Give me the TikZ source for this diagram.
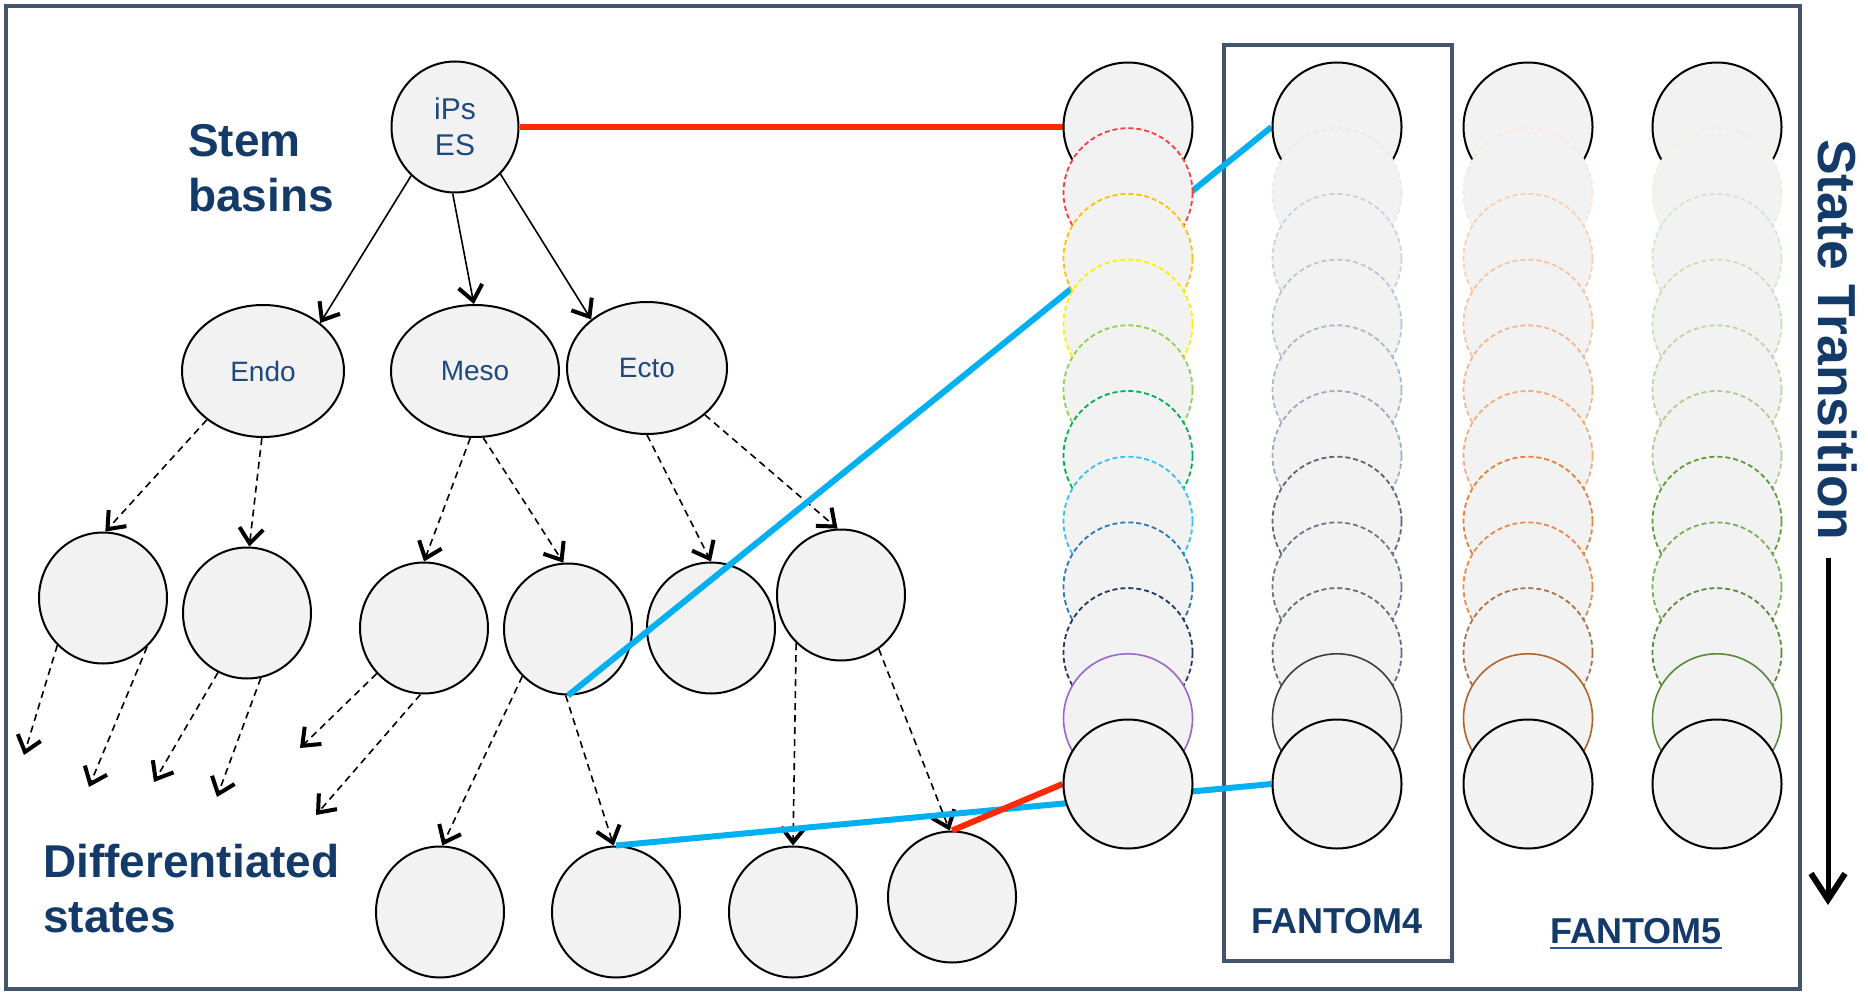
\documentclass[tikz,border=0pt]{standalone}
\usepackage{fontspec}
\setmainfont{Liberation Sans}
\usetikzlibrary{arrows.meta,shapes.geometric}
\pgfdeclarelayer{treel}
\pgfdeclarelayer{linel}
\pgfsetlayers{treel,linel,main}
\definecolor{cellfill}{HTML}{F2F2F2}
\definecolor{framec}{HTML}{44546A}
\definecolor{navy}{HTML}{133A68}
\definecolor{nodetxt}{HTML}{1F497D}
\definecolor{cyanl}{HTML}{00B0F0}
\definecolor{redl}{HTML}{FF2A00}
\definecolor{ulink}{HTML}{2F5597}
% column a
\definecolor{ka1}{HTML}{FF3B3B}
\definecolor{ka2}{HTML}{FFC000}
\definecolor{ka3}{HTML}{FFF000}
\definecolor{ka4}{HTML}{92D050}
\definecolor{ka5}{HTML}{00B050}
\definecolor{ka6}{HTML}{33C2F5}
\definecolor{ka7}{HTML}{2E75B6}
\definecolor{ka8}{HTML}{203864}
\definecolor{ka9}{HTML}{9A66CC}
% column b
\definecolor{kb1}{HTML}{E6E9EF}
\definecolor{kb2}{HTML}{CBD2DE}
\definecolor{kb3}{HTML}{BCC5D5}
\definecolor{kb4}{HTML}{ADB7CA}
\definecolor{kb5}{HTML}{9FAABF}
\definecolor{kb6}{HTML}{5E6676}
\definecolor{kb7}{HTML}{6E7685}
\definecolor{kb8}{HTML}{646B78}
\definecolor{kb9}{HTML}{3F3F3F}
% column c
\definecolor{kc1}{HTML}{FBE6D9}
\definecolor{kc2}{HTML}{F8CFB3}
\definecolor{kc3}{HTML}{F6C2A0}
\definecolor{kc4}{HTML}{F4B590}
\definecolor{kc5}{HTML}{F2AA7E}
\definecolor{kc6}{HTML}{E6803C}
\definecolor{kc7}{HTML}{E8894A}
\definecolor{kc8}{HTML}{A8724C}
\definecolor{kc9}{HTML}{B0632A}
% column d
\definecolor{kd1}{HTML}{E8F2E0}
\definecolor{kd2}{HTML}{D3E6C6}
\definecolor{kd3}{HTML}{C8E0B6}
\definecolor{kd4}{HTML}{B9D8A2}
\definecolor{kd5}{HTML}{A9D08E}
\definecolor{kd6}{HTML}{5F9B3A}
\definecolor{kd7}{HTML}{78AE55}
\definecolor{kd8}{HTML}{5C8A3C}
\definecolor{kd9}{HTML}{5A8A3A}
\begin{document}
\begin{tikzpicture}[x=1pt,y=-1pt,
  colc/.style={circle, fill=cellfill, minimum size=129pt, inner sep=0pt},
  ksolid/.style={line width=2pt},
  kdash/.style={line width=1.8pt, dash pattern=on 5pt off 3pt},
  kthin/.style={line width=1.6pt},
  tnode/.style={ellipse, draw=black, line width=2pt, fill=cellfill, inner sep=0pt,
    text=nodetxt, font=\fontsize{28}{34}\selectfont},
  tcirc/.style={tnode, minimum width=128pt, minimum height=131pt},
  sarrow/.style={line width=1.6pt, -{Straight Barb[length=15pt,width=24pt,line width=4pt]}},
  darrow/.style={sarrow, dash pattern=on 7pt off 5pt},
  framebox/.style={draw=framec, line width=4pt},
  bigtxt/.style={inner sep=0pt, text=navy, font=\fontsize{46}{55}\selectfont\bfseries},
  midtxt/.style={inner sep=0pt, text=navy, font=\fontsize{36}{42}\selectfont\bfseries},
  sttxt/.style={inner sep=0pt, text=navy, font=\fontsize{53.5}{60}\selectfont\bfseries},
  redln/.style={draw=redl, line width=6pt},
  cyanln/.style={draw=cyanl, line width=6pt}
]
\useasboundingbox (0,0) rectangle (1868,992);

% ---- columns (main layer) ----
\foreach \cc/\kst [count=\i from 0] in {black/ksolid,ka1/kdash,ka2/kdash,ka3/kdash,ka4/kdash,ka5/kdash,ka6/kdash,ka7/kdash,ka8/kdash,ka9/kthin,black/ksolid}
  \node[colc, draw=\cc, \kst] (a\i) at (1128,{127+\i*65.7}) {};
\foreach \cc/\kst [count=\i from 0] in {black/ksolid,kb1/kdash,kb2/kdash,kb3/kdash,kb4/kdash,kb5/kdash,kb6/kdash,kb7/kdash,kb8/kdash,kb9/kthin,black/ksolid}
  \node[colc, draw=\cc, \kst] (b\i) at (1337,{127+\i*65.7}) {};
\foreach \cc/\kst [count=\i from 0] in {black/ksolid,kc1/kdash,kc2/kdash,kc3/kdash,kc4/kdash,kc5/kdash,kc6/kdash,kc7/kdash,kc8/kdash,kc9/kthin,black/ksolid}
  \node[colc, draw=\cc, \kst] (c\i) at (1528,{127+\i*65.7}) {};
\foreach \cc/\kst [count=\i from 0] in {black/ksolid,kd1/kdash,kd2/kdash,kd3/kdash,kd4/kdash,kd5/kdash,kd6/kdash,kd7/kdash,kd8/kdash,kd9/kthin,black/ksolid}
  \node[colc, draw=\cc, \kst] (d\i) at (1717,{127+\i*65.7}) {};

% ---- texts ----
\node[bigtxt, anchor=base west] (stem) at (188,157) {Stem};
\node[bigtxt, anchor=base west] (basins) at (188,212) {basins};
\node[bigtxt, anchor=base west] (diff) at (43,877) {Differentiated};
\node[bigtxt, anchor=base west] (states) at (43,932) {states};
\node[midtxt, anchor=base] (f4) at (1337,933) {FANTOM4};
\node[midtxt, anchor=base] (f5) at (1636,943) {FANTOM5};
\draw[ulink, line width=2pt] ([yshift=-5pt]f5.base west) -- ([yshift=-5pt]f5.base east);
\node[sttxt, rotate=-90, anchor=base west] (st) at (1818,139) {State Transition};
\coordinate (ar1) at (1828,558);
\coordinate (ar2) at (1828,905);
\draw[line width=5pt, -{Straight Barb[length=26pt,width=34pt,line width=6pt]}] (ar1) -- (ar2);

% ---- tree (back layer) ----
\begin{pgfonlayer}{treel}
\draw[framebox] (6,6) rectangle (1800,989);
\draw[framebox] (1224,45) rectangle (1452,961);
\node[tnode, minimum width=127pt, minimum height=131pt, align=center,
  font=\fontsize{30}{36}\selectfont] (ips) at (455,127) {iPs\\ES};
\node[tnode, minimum width=162pt, minimum height=132pt] (endo) at (263,371) {Endo};
\node[tnode, minimum width=168pt, minimum height=132pt] (meso) at (475,371) {Meso};
\node[tnode, minimum width=160pt, minimum height=132pt] (ecto) at (647,368) {Ecto};
\node[tcirc] (k1) at (103,598) {};
\node[tcirc] (k2) at (247,613) {};
\node[tcirc] (k3) at (424,628) {};
\node[tcirc] (k4) at (568,629) {};
\node[tcirc] (k5) at (711,628) {};
\node[tcirc] (k6) at (841,595) {};
\node[tcirc] (m1) at (440,912) {};
\node[tcirc] (m2) at (616,912) {};
\node[tcirc] (m3) at (793,912) {};
\node[tcirc] (m4) at (952,897) {};
\coordinate (e1) at (24,755);
\coordinate (e2) at (89,787);
\coordinate (e3) at (154,782);
\coordinate (e4) at (217,797);
\coordinate (e5) at (300,748);
\coordinate (e6) at (316,815);
\draw[sarrow] (ips.228) -- (endo.40);
\draw[sarrow] (ips.268) -- (meso.91);
\draw[sarrow] (ips.314) -- (ecto.139);
\draw[darrow] (endo.221) -- (k1.88);
\draw[darrow] (endo.269) -- (k2.88);
\draw[darrow] (meso.266) -- (k3.90);
\draw[darrow] (meso.277) -- (k4.94);
\draw[darrow] (ecto.270) -- (k5.90);
\draw[darrow] (ecto.321) -- (k6.93);
\draw[darrow] (k1.226) -- (e1);
\draw[darrow] (k1.312) -- (e2);
\draw[darrow] (k2.244) -- (e3);
\draw[darrow] (k2.282) -- (e4);
\draw[darrow] (k3.224) -- (e5);
\draw[darrow] (k3.267) -- (e6);
\draw[darrow] (k4.226) -- (m1.88);
\draw[darrow] (k4.268) -- (m2.92);
\draw[darrow] (k6.227) -- (m3.90);
\draw[darrow] (k6.305) -- (m4.92);
\end{pgfonlayer}

% ---- highlight lines ----
\begin{pgfonlayer}{linel}
\draw[redln] (ips.east) -- (a0.west);
\draw[cyanln] (k4.south) -- (b0.west);
\draw[cyanln] (m2.north) -- (b10.west);
\draw[redln] (m4.north) -- (a10.west);
\end{pgfonlayer}
\end{tikzpicture}
\end{document}
